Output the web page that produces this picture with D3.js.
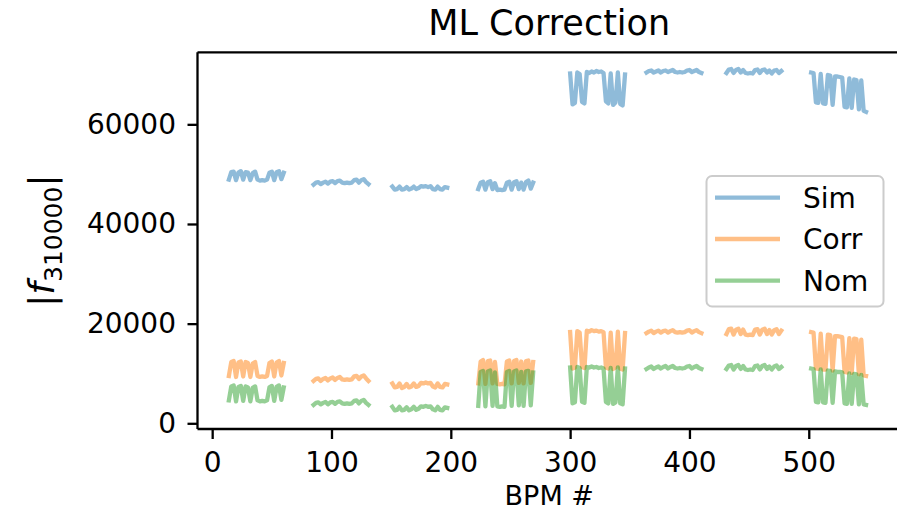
<!DOCTYPE html>
<html>
<head>
<meta charset="utf-8">
<script src="https://cdn.jsdelivr.net/npm/d3@7"></script>
<style>
  body { margin: 0; background: #fff; }
  svg { display: block; }
  text { font-family: "DejaVu Sans", sans-serif; fill: #000; }
</style>
</head>
<body>
<svg id="chart" width="897" height="512"></svg>
<script>
// First BPM index of each arc; BPMs inside an arc are sampled every second index.
const groupStart = [14, 85, 151, 223, 300, 364, 431, 502];
const bpmStep = 2;

// |f_310000| per arc (24 samples each)
const simVals = [
  [48900, 50400, 50500, 48800, 50300, 50600, 48900, 50400, 50300, 48800, 50200, 50500, 48900, 48700, 48800, 48700, 48900, 50300, 50500, 48800, 50400, 50600, 49000, 50300],
  [47900, 48300, 48400, 48000, 48300, 48500, 48100, 48500, 48600, 48200, 48600, 48700, 48300, 48200, 48300, 48200, 48300, 48800, 48900, 48300, 48800, 49000, 48400, 48000],
  [47500, 46900, 47000, 47500, 46900, 47000, 47400, 46900, 47100, 47500, 47000, 47200, 47600, 47500, 47600, 47400, 47600, 47000, 46900, 47500, 47000, 46900, 47400, 47300],
  [47000, 48300, 48500, 46900, 48400, 48600, 47000, 48200, 46800, 46900, 46800, 46900, 48300, 48500, 46900, 48400, 48600, 47000, 48300, 46900, 48400, 48700, 47100, 48300],
  [70200, 64000, 64300, 70400, 70100, 64500, 64200, 70500, 70300, 70600, 70400, 70700, 70500, 70600, 70300, 64600, 64200, 70200, 63900, 64400, 70400, 64100, 63800, 70000],
  [70400, 70700, 70800, 70400, 70600, 70800, 70400, 70700, 70800, 70500, 70700, 70900, 70500, 70400, 70500, 70400, 70500, 70800, 70900, 70500, 70700, 70900, 70500, 70300],
  [70300, 71000, 71100, 70300, 70900, 71100, 70400, 70900, 70300, 70200, 70300, 70200, 70900, 71000, 70300, 70900, 71000, 70400, 70800, 70200, 70800, 70900, 70300, 70700],
  [70400, 70300, 64400, 64300, 70100, 64200, 64100, 69900, 69800, 63900, 69600, 69600, 69500, 69400, 63500, 63400, 69200, 63300, 69000, 68900, 63000, 68800, 62700, 62500]
];
const corrVals = [
  [9500, 12300, 12500, 9300, 12200, 12400, 9400, 12300, 12100, 9300, 12000, 12300, 9500, 9300, 9400, 9300, 9500, 12100, 12400, 9400, 12200, 12500, 9600, 12100],
  [8500, 8900, 9000, 8500, 8900, 9100, 8600, 9000, 9200, 8700, 9100, 9300, 8800, 8700, 8800, 8700, 8800, 9400, 9500, 8900, 9400, 9600, 9000, 8500],
  [8000, 7200, 7300, 8000, 7100, 7300, 7900, 7200, 7400, 8000, 7300, 7500, 8100, 8000, 8200, 8000, 8100, 7400, 7200, 8000, 7300, 7200, 7900, 7800],
  [8000, 12400, 12700, 7900, 12500, 12600, 8000, 12300, 7900, 7800, 7900, 7800, 12400, 12600, 8000, 12500, 12700, 8100, 12400, 8000, 12500, 12600, 8100, 12300],
  [18300, 11000, 11200, 18500, 18200, 11300, 11100, 18600, 18400, 18700, 18500, 18600, 18400, 18500, 18300, 11200, 11000, 18200, 10900, 11200, 18400, 11000, 10800, 18100],
  [18100, 18400, 18600, 18100, 18400, 18600, 18200, 18500, 18600, 18200, 18500, 18700, 18300, 18200, 18300, 18200, 18300, 18600, 18700, 18200, 18500, 18700, 18300, 18100],
  [17900, 18900, 19000, 17800, 18800, 19000, 17900, 18800, 17800, 17700, 17800, 17700, 18800, 18900, 17800, 18800, 19000, 17900, 18700, 17800, 18700, 18900, 17900, 18600],
  [18300, 18200, 11000, 10900, 18000, 10800, 10800, 17800, 17700, 10600, 17500, 17500, 17400, 17300, 10300, 10200, 17100, 10100, 17000, 16900, 9800, 16800, 9600, 9500]
];
const nomVals = [
  [4600, 7400, 7600, 4400, 7300, 7500, 4500, 7400, 7200, 4400, 7100, 7400, 4600, 4400, 4500, 4400, 4600, 7200, 7500, 4500, 7300, 7600, 4700, 7200],
  [3700, 4100, 4200, 3800, 4100, 4300, 3800, 4200, 4300, 3900, 4300, 4400, 4000, 3900, 4000, 3900, 4000, 4500, 4600, 4000, 4500, 4700, 4100, 3700],
  [3300, 2600, 2700, 3300, 2600, 2700, 3200, 2600, 2800, 3300, 2700, 2900, 3400, 3300, 3500, 3300, 3400, 2800, 2600, 3300, 2700, 2600, 3200, 3100],
  [3500, 10300, 10500, 3400, 10400, 10600, 3500, 10200, 3400, 3300, 3400, 3300, 10300, 10500, 3500, 10400, 10600, 3600, 10300, 3500, 10400, 10500, 3600, 10200],
  [11200, 4000, 4200, 11300, 11100, 4300, 4100, 11300, 11200, 11400, 11200, 11300, 11100, 11200, 11000, 4300, 4000, 11100, 3900, 4200, 11200, 4000, 3800, 11000],
  [10900, 11200, 11400, 10900, 11200, 11400, 11000, 11300, 11500, 11000, 11300, 11500, 11100, 11000, 11100, 11000, 11100, 11400, 11500, 11000, 11300, 11500, 11100, 10900],
  [10900, 11600, 11700, 10800, 11500, 11700, 10900, 11500, 10800, 10700, 10800, 10700, 11500, 11600, 10800, 11500, 11700, 10900, 11400, 10800, 11400, 11600, 10900, 11300],
  [11000, 10900, 4300, 4200, 10800, 4200, 4100, 10600, 10500, 4100, 10400, 10300, 10300, 10200, 4000, 3900, 10000, 3900, 9900, 9800, 3800, 9700, 3800, 3700]
];

const seriesNames = ["Sim", "Corr", "Nom"];
const seriesColors = ["#1f77b4", "#ff7f0e", "#2ca02c"];
const xTicks = [0, 100, 200, 300, 400, 500];
const yTicks = [0, 20000, 40000, 60000];

const svg = d3.select("#chart");
const box = { left: 197.5, right: 901, top: 52.3, bottom: 429 };

const x = d3.scaleLinear().domain([-12.3, 577.3]).range([box.left, box.right]);
const y = d3.scaleLinear().domain([-1144, 74455]).range([box.bottom, box.top]);

// flatten arcs into one polyline per series, with breaks between arcs
function toPoints(groups) {
  const pts = [];
  groups.forEach((vals, g) => {
    vals.forEach((v, i) => pts.push({ bpm: groupStart[g] + i * bpmStep, v }));
    pts.push({ bpm: null, v: null });
  });
  return pts;
}
const series = [simVals, corrVals, nomVals].map((groups, k) => ({
  name: seriesNames[k], color: seriesColors[k], points: toPoints(groups)
}));

svg.append("defs").append("clipPath").attr("id", "plotclip")
  .append("rect")
  .attr("x", box.left).attr("y", box.top)
  .attr("width", box.right - box.left).attr("height", box.bottom - box.top);

const line = d3.line()
  .defined(d => d.v !== null)
  .x(d => x(d.bpm))
  .y(d => y(d.v));

const plot = svg.append("g").attr("clip-path", "url(#plotclip)");
plot.selectAll("path.series")
  .data(series)
  .join("path")
  .attr("class", "series")
  .attr("d", d => line(d.points))
  .attr("fill", "none")
  .attr("stroke", d => d.color)
  .attr("stroke-opacity", 0.5)
  .attr("stroke-width", 4.3)
  .attr("stroke-linejoin", "round")
  .attr("stroke-linecap", "square");

// axes
const xAxis = svg.append("g")
  .attr("transform", `translate(0,${box.bottom})`)
  .call(d3.axisBottom(x).tickValues(xTicks).tickSize(10).tickPadding(13).tickFormat(d3.format("d")));
const yAxis = svg.append("g")
  .attr("transform", `translate(${box.left},0)`)
  .call(d3.axisLeft(y).tickValues(yTicks).tickSize(10).tickPadding(11.5).tickFormat(d3.format("d")));

[xAxis, yAxis].forEach(a => {
  a.select(".domain").remove();
  a.selectAll(".tick line").attr("stroke", "#000").attr("stroke-width", 2.3);
  a.selectAll(".tick text")
    .attr("font-size", 28)
    .attr("font-family", "DejaVu Sans, sans-serif")
    .attr("fill", "#000");
});

// spines (right spine lies just outside the canvas)
const spines = svg.append("g").attr("stroke", "#000").attr("stroke-width", 2.3).attr("fill", "none");
spines.append("line").attr("x1", box.left).attr("x2", box.left).attr("y1", box.top).attr("y2", box.bottom);
spines.append("line").attr("x1", box.left).attr("x2", box.right).attr("y1", box.top).attr("y2", box.top);
spines.append("line").attr("x1", box.left).attr("x2", box.right).attr("y1", box.bottom).attr("y2", box.bottom);
spines.append("line").attr("x1", box.right).attr("x2", box.right).attr("y1", box.top).attr("y2", box.bottom);

// title and axis labels
const cx = (box.left + box.right) / 2;
svg.append("text")
  .attr("x", cx).attr("y", 35)
  .attr("text-anchor", "middle")
  .attr("font-size", 35)
  .text("ML Correction");

svg.append("text")
  .attr("x", cx).attr("y", 504.5)
  .attr("text-anchor", "middle")
  .attr("font-size", 27)
  .text("BPM #");

const yl = svg.append("text")
  .attr("transform", `translate(54,${(box.top + box.bottom) / 2}) rotate(-90)`)
  .attr("text-anchor", "middle")
  .attr("font-size", 36);
yl.append("tspan").text("|");
yl.append("tspan").attr("font-style", "italic").text("f");
yl.append("tspan").attr("font-size", 25).attr("dy", 8).text("310000");
yl.append("tspan").attr("dy", -8).text("|");

// legend
const lg = svg.append("g");
lg.append("rect")
  .attr("x", 706.5).attr("y", 176)
  .attr("width", 177).attr("height", 130.5)
  .attr("rx", 5.6)
  .attr("fill", "#fff").attr("fill-opacity", 0.8)
  .attr("stroke", "#cccccc").attr("stroke-width", 2);
const rowY = [197.7, 239, 280.7];
series.forEach((s, k) => {
  lg.append("line")
    .attr("x1", 715).attr("x2", 780)
    .attr("y1", rowY[k]).attr("y2", rowY[k])
    .attr("stroke", s.color).attr("stroke-opacity", 0.5)
    .attr("stroke-width", 4.3);
  lg.append("text")
    .attr("x", 803).attr("y", rowY[k])
    .attr("dy", "0.36em")
    .attr("font-size", 28)
    .text(s.name);
});
</script>
</body>
</html>
